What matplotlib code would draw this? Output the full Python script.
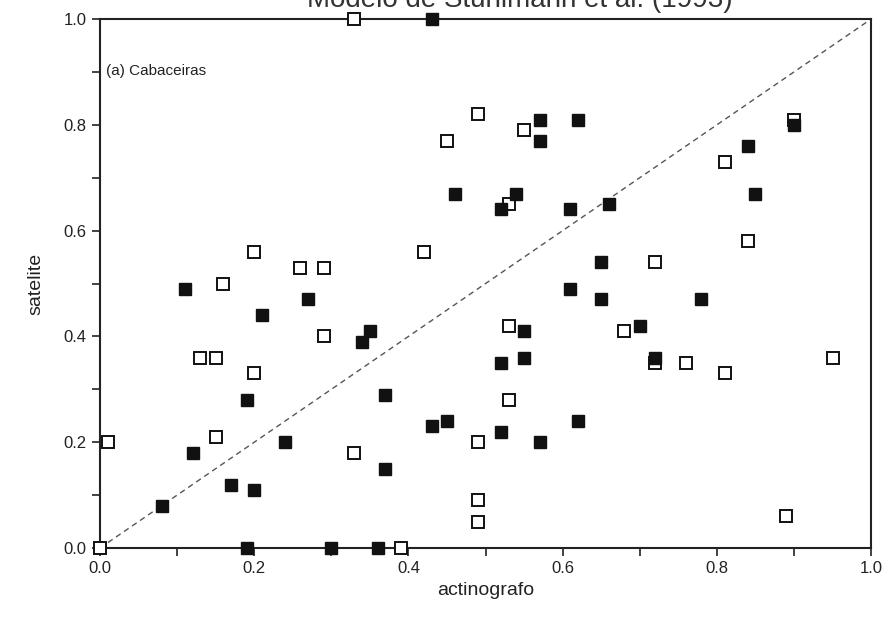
import matplotlib.pyplot as plt
from matplotlib.ticker import MultipleLocator

# open squares
open_x = [0.00, 0.01, 0.13, 0.15, 0.15, 0.16, 0.20, 0.20, 0.26, 0.29, 0.29, 0.33,
          0.33, 0.39, 0.42, 0.45, 0.49, 0.55, 0.53, 0.53, 0.53, 0.49, 0.49, 0.49,
          0.68, 0.72, 0.72, 0.76, 0.81, 0.81, 0.84, 0.89, 0.90, 0.95]
open_y = [0.00, 0.20, 0.36, 0.36, 0.21, 0.50, 0.56, 0.33, 0.53, 0.53, 0.40, 1.00,
          0.18, 0.00, 0.56, 0.77, 0.82, 0.79, 0.65, 0.42, 0.28, 0.20, 0.09, 0.05,
          0.41, 0.54, 0.35, 0.35, 0.73, 0.33, 0.58, 0.06, 0.81, 0.36]

# filled squares
fill_x = [0.08, 0.11, 0.12, 0.17, 0.19, 0.20, 0.19, 0.21, 0.24, 0.27, 0.30, 0.34,
          0.35, 0.36, 0.37, 0.37, 0.43, 0.43, 0.45, 0.46, 0.52, 0.52, 0.52, 0.54,
          0.55, 0.55, 0.57, 0.57, 0.57, 0.61, 0.61, 0.62, 0.62, 0.65, 0.65, 0.66,
          0.70, 0.72, 0.78, 0.84, 0.85, 0.90]
fill_y = [0.08, 0.49, 0.18, 0.12, 0.28, 0.11, 0.00, 0.44, 0.20, 0.47, 0.00, 0.39,
          0.41, 0.00, 0.29, 0.15, 1.00, 0.23, 0.24, 0.67, 0.64, 0.35, 0.22, 0.67,
          0.41, 0.36, 0.81, 0.77, 0.20, 0.49, 0.64, 0.81, 0.24, 0.54, 0.47, 0.65,
          0.42, 0.36, 0.47, 0.76, 0.67, 0.80]

plt.rcParams['font.family'] = ['Liberation Sans', 'DejaVu Sans']

fig = plt.figure(figsize=(8.88, 6.2), dpi=100)
ax = fig.add_axes([0.1126, 0.1161, 0.8684, 0.8532])

ax.plot([0, 1], [0, 1], color='#555555', linestyle=(0, (4, 3)), linewidth=1.0, zorder=1)
ax.plot(open_x, open_y, 's', markersize=8.5, markerfacecolor='white',
        markeredgecolor='#111111', markeredgewidth=1.4, clip_on=False, zorder=3)
ax.plot(fill_x, fill_y, 's', markersize=8.5, markerfacecolor='#111111',
        markeredgecolor='#111111', markeredgewidth=1.0, clip_on=False, zorder=3)

ax.set_xlim(0, 1)
ax.set_ylim(0, 1)
ax.xaxis.set_major_locator(MultipleLocator(0.2))
ax.yaxis.set_major_locator(MultipleLocator(0.2))
ax.xaxis.set_minor_locator(MultipleLocator(0.1))
ax.yaxis.set_minor_locator(MultipleLocator(0.1))
ax.xaxis.set_major_formatter(plt.FormatStrFormatter('%.1f'))
ax.yaxis.set_major_formatter(plt.FormatStrFormatter('%.1f'))
ax.tick_params(which='both', direction='out', length=6, width=1.2,
               top=False, right=False, labelsize=12, colors='#222222')
for s in ax.spines.values():
    s.set_linewidth(1.5)
    s.set_color('#222222')

ax.set_xlabel('actinografo', fontsize=14, color='#222222', labelpad=4)
ax.set_ylabel('satelite', fontsize=14, color='#222222', labelpad=14)
ax.text(0.008, 0.895, '(a) Cabaceiras', transform=ax.transAxes, fontsize=11, color='#222222')

# title, cut off at the top edge of the scan
fig.text(0.585, 1.0, 'Modelo de Stuhlmann et al. (1993)', ha='center', va='center',
         fontsize=20, color='#333333')

fig.savefig('out.png', dpi=100)
